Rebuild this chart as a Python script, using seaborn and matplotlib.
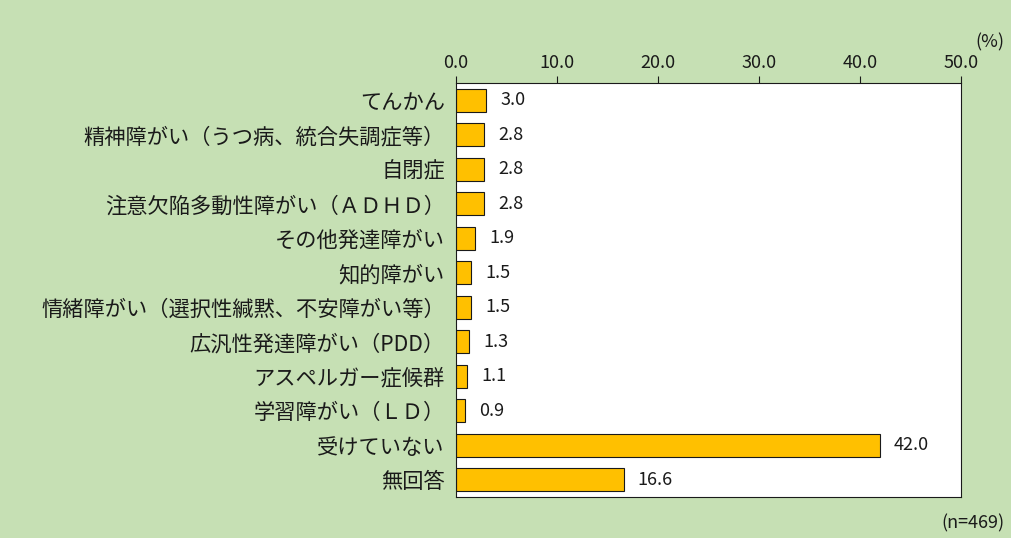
import matplotlib
matplotlib.use('Agg')
import matplotlib.pyplot as plt
import seaborn as sns
import pandas as pd

# データ
categories = ['てんかん', '精神障がい（うつ病、統合失調症等）', '自閉症',
              '注意欠陥多動性障がい（ＡＤＨＤ）', 'その他発達障がい', '知的障がい',
              '情緒障がい（選択性緘黙、不安障がい等）', '広汎性発達障がい（PDD）',
              'アスペルガー症候群', '学習障がい（ＬＤ）', '受けていない', '無回答']
values = [3.0, 2.8, 2.8, 2.8, 1.9, 1.5, 1.5, 1.3, 1.1, 0.9, 42.0, 16.6]
xticks = [0, 10, 20, 30, 40, 50]

df = pd.DataFrame({'cat': categories, 'val': values})

sns.set_theme(style='white')
plt.rcParams['font.family'] = ['Noto Sans CJK JP', 'DejaVu Sans']

bg = '#C6E0B4'
ink = '#1a1a1a'
fig = plt.figure(figsize=(10.12, 5.38), dpi=100, facecolor=bg)
ax = fig.add_axes([0.4506, 0.0762, 0.499, 0.7695])

sns.barplot(data=df, x='val', y='cat', ax=ax, color='#FFC000',
            edgecolor=ink, linewidth=0.8, width=0.66, saturation=1)

for i, v in enumerate(values):
    ax.annotate(f'{v:.1f}', (v, i), xytext=(10, 0), textcoords='offset points',
                va='center', ha='left', fontsize=13, color=ink)

ax.set_xlim(0, 50)
ax.set_ylim(len(categories) - 0.5, -0.5)
ax.set_xticks(xticks)
ax.set_xticklabels([f'{t:.1f}' for t in xticks], fontsize=13, color=ink)
ax.xaxis.tick_top()
ax.tick_params(axis='x', direction='out', length=5, width=0.8, colors=ink, pad=3, top=True)
ax.tick_params(axis='y', length=0, colors=ink, pad=8)
for lab in ax.get_yticklabels():
    lab.set_fontsize(15.3)
ax.set_xlabel('')
ax.set_ylabel('')
for s in ax.spines.values():
    s.set_color(ink)
    s.set_linewidth(0.8)
ax.set_facecolor('white')

fig.text(0.992, 0.905, '(%)', ha='right', va='bottom', fontsize=13, color=ink)
fig.text(0.993, 0.01, '(n=469)', ha='right', va='bottom', fontsize=13, color=ink)

fig.savefig('out.png', dpi=100, facecolor=bg)
